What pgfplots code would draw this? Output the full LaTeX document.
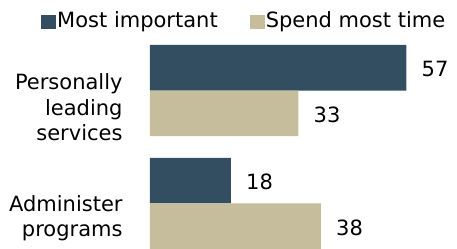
\documentclass[border=0pt]{standalone}
\usepackage{pgfplots}
\pgfplotsset{compat=1.18}
\usepackage{fontspec}
\setmainfont{DejaVu Sans}
\definecolor{darkbar}{RGB}{52,78,97}
\definecolor{tanbar}{RGB}{197,189,155}
\newcommand{\chartfont}{\fontsize{21bp}{25.2bp}\selectfont}
\begin{document}
\chartfont
\begin{tikzpicture}
\begin{axis}[
  name=ax,
  scale only axis,
  width=306bp, height=204bp,
  xmin=0, xmax=68,
  ymin=-0.4027, ymax=1.4027,
  xbar, bar width=45.5bp,
  axis line style={draw=none},
  tick style={draw=none},
  xtick=\empty,
  ytick={-0.130,0.8513},
  yticklabels={{Administer\\programs},{Personally\\leading\\services}},
  yticklabel style={align=right, inner sep=0pt, xshift=-23bp, font=\chartfont},
  /pgf/number format/assume math mode=true,
  point meta=x,
  nodes near coords,
  nodes near coords align={horizontal},
  every node near coord/.append style={inner sep=0pt, anchor=west, xshift=15bp, yshift=-1.5bp, font=\chartfont, text=black},
  legend columns=2,
  legend cell align=left,
  legend image code/.code={\fill[#1] (0bp,-8.5bp) rectangle (15bp,5.5bp);},
  legend style={draw=none, fill=none, at={(axis description cs:0,1)}, anchor=west,
    xshift=-109bp, yshift=24bp, inner sep=0pt, font=\chartfont,
    nodes={inner sep=0pt},
    /tikz/every odd column/.append style={column sep=1bp},
    /tikz/every even column/.append style={column sep=32bp}},
]
\addplot[fill=darkbar, draw=none, bar shift=22.75bp] coordinates {(57,1) (18,0)};
\addplot[fill=tanbar, draw=none, bar shift=-22.75bp] coordinates {(33,1) (38,0)};
\legend{Most important, Spend most time}
\end{axis}
\pgfresetboundingbox
\path (ax.south west) ++(-150bp,0bp) rectangle ++(457bp,249bp);
\end{tikzpicture}
\end{document}
